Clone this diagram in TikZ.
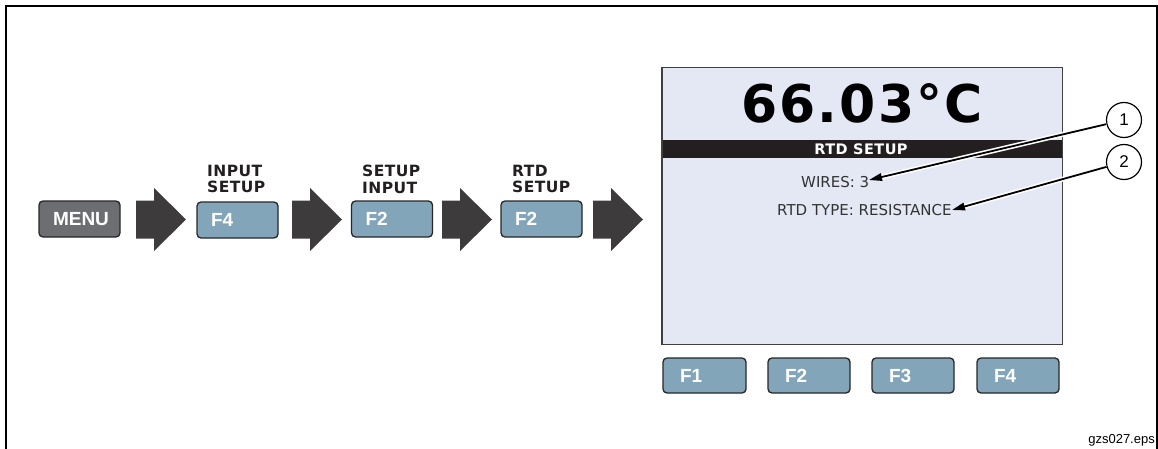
\documentclass[tikz,border=0pt]{standalone}
\usepackage{fontspec}
\setmainfont{Liberation Sans}
\newfontfamily\dejavu{DejaVu Sans}
\newfontfamily\bigdigits{DejaVu Sans}[LetterSpace=4]
\newfontfamily\hdrfont{DejaVu Sans}[LetterSpace=3]
\usetikzlibrary{arrows.meta}
\definecolor{btnblue}{HTML}{82A5B9}
\definecolor{menugray}{HTML}{6D6E72}
\definecolor{arrowgray}{HTML}{3D3B3C}
\definecolor{screenbg}{HTML}{E4E8F4}
\definecolor{bardark}{HTML}{231F20}
\definecolor{textgray}{HTML}{333333}
\begin{document}
\begin{tikzpicture}[x=1pt,y=-1pt,
  key/.style={draw=black!85, line width=1.3pt, rounded corners=4pt, fill=btnblue,
    text=white, font=\fontsize{19}{19}\selectfont\bfseries, minimum height=36pt,
    inner xsep=14pt, inner ysep=0pt, text width=53pt, align=left},
  menukey/.style={key, fill=menugray, align=center},
  hdr/.style={font=\hdrfont\bfseries\fontsize{15.5}{17}\selectfont, align=left,
    inner sep=0pt, text=bardark},
  blockarr/.style={fill=arrowgray},
  shown/.style={font=\dejavu\fontsize{15}{15}\selectfont, text=textgray, inner sep=0pt},
  callout/.style={circle, draw=black, line width=1.2pt, fill=white, minimum size=35pt,
    inner sep=0pt, font=\fontsize{17}{17}\selectfont},
  halo/.style={draw=white, line width=5pt, shorten >=10pt},
  leader/.style={draw=black, line width=1.8pt, -{Triangle[length=13pt,width=7.5pt]}}
]
\useasboundingbox (0,0) rectangle (1158,449);
% frame
\draw[line width=2pt] (6,449) -- (6,6) -- (1156.5,6) -- (1156.5,449);

% keys of the sequence
\node[menukey] (menu) at (79.5,219) {MENU};
\node[key] (k1) at (237.5,220) {F4};
\node[key] (k2) at (392,219) {F2};
\node[key] (k3) at (541.5,219) {F2};

% headers
\node[hdr, anchor=north west] (h1) at (207,164.5) {INPUT\\SETUP};
\node[hdr, anchor=north west] (h2) at (362,164.5) {SETUP\\INPUT};
\node[hdr, anchor=north west] (h3) at (512,164.5) {RTD\\SETUP};

% block arrows
\foreach \x in {136,292,442,593}
  \fill[blockarr, shift={(\x,0)}] (0,200.5) -- (18,200.5) -- (18,188) -- (50,219.5)
     -- (18,251) -- (18,238.5) -- (0,238.5) -- cycle;

% screen
\node[draw=none, fill=screenbg, minimum width=400pt, minimum height=276pt, inner sep=0pt]
  (screen) at (862,206) {};
\fill[bardark] (screen.west |- 0,140) rectangle (screen.east |- 0,158);
\draw[draw=black!75, line width=1.4pt] (screen.north west) rectangle (screen.south east);
\node[anchor=base, inner sep=0pt, text=black,
  font=\bigdigits\bfseries\fontsize{52}{52}\selectfont] (temp) at (862,123) {66.03°C};
\node[anchor=base, inner sep=0pt, text=white,
  font=\hdrfont\bfseries\fontsize{14.5}{15}\selectfont] (title) at (861,155) {RTD SETUP};
\node[shown, anchor=base west] (wires) at (801,187) {WIRES: 3};
\node[shown, anchor=base west] (rtdtype) at (777,215) {RTD TYPE: RESISTANCE};

% soft keys
\node[key, minimum height=35pt, text width=49pt, inner xsep=17pt] (s1) at (704.5,375.5) {F1};
\node[key, minimum height=35pt, text width=48pt, inner xsep=17pt] (s2) at (809,375.5) {F2};
\node[key, minimum height=35pt, text width=48pt, inner xsep=17pt] (s3) at (913,375.5) {F3};
\node[key, minimum height=35pt, text width=48pt, inner xsep=17pt] (s4) at (1018,375.5) {F4};

% callouts
\node[callout] (c1) at (1124,120) {1};
\node[callout] (c2) at (1124,162) {2};
\coordinate (t1) at (869,180);
\coordinate (t2) at (952,210);
\draw[halo] (c1) -- (t1);
\draw[halo] (c2) -- (t2);
\draw[leader] (c1) -- (t1);
\draw[leader] (c2) -- (t2);

% file name
\node[anchor=base east, inner sep=0pt, font=\fontsize{13}{13}\selectfont] (fname)
  at (1155,443) {gzs027.eps};
\end{tikzpicture}
\end{document}
